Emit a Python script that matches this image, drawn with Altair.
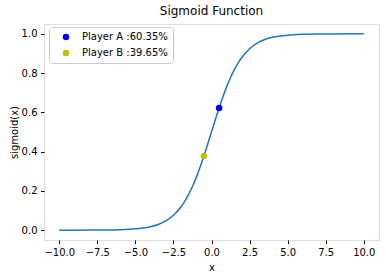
import altair as alt
import pandas as pd

# Sampled points of the logistic curve
curve_x = [-10, -9, -8, -7, -6, -5, -4.5, -4, -3.5, -3, -2.5, -2, -1.75, -1.5, -1.25, -1,
           -0.75, -0.5, -0.25, 0, 0.25, 0.5, 0.75, 1, 1.25, 1.5, 1.75, 2, 2.5, 3, 3.5,
           4, 4.5, 5, 6, 7, 8, 9, 10]
curve_y = [0.00005, 0.00012, 0.00034, 0.00091, 0.00247, 0.00669, 0.01099, 0.01799, 0.02931,
           0.04743, 0.07586, 0.11920, 0.14805, 0.18243, 0.22270, 0.26894, 0.32082, 0.37754,
           0.43782, 0.5, 0.56218, 0.62246, 0.67918, 0.73106, 0.77730, 0.81757, 0.85195,
           0.88080, 0.92414, 0.95257, 0.97069, 0.98201, 0.98901, 0.99331, 0.99753, 0.99909,
           0.99966, 0.99988, 0.99995]

# Player markers
players = ["Player A :60.35%", "Player B :39.65%"]
player_x = [0.5, -0.5]
player_y = [0.62246, 0.37754]
player_colors = ["#0000ff", "#bfbf00"]

curve = pd.DataFrame({"x": curve_x, "y": curve_y})
pts = pd.DataFrame({"player": players, "x": player_x, "y": player_y})

font = "DejaVu Sans"

x_scale = alt.Scale(domain=[-11, 11], nice=False, zero=False)
y_scale = alt.Scale(domain=[-0.05, 1.05], nice=False, zero=False)

x_axis = alt.Axis(values=[-10, -7.5, -5, -2.5, 0, 2.5, 5, 7.5, 10], format=".1f",
                  grid=False, domain=False, tickColor="black", tickSize=3.5,
                  labelPadding=3.5, labelFontSize=10, labelColor="black", labelFont=font,
                  titleFont=font, titleFontSize=10, titleFontWeight="normal",
                  titleColor="black", titlePadding=5)
y_axis = alt.Axis(values=[0, 0.2, 0.4, 0.6, 0.8, 1.0], format=".1f",
                  grid=False, domain=False, tickColor="black", tickSize=3.5,
                  labelPadding=3.5, labelFontSize=10, labelColor="black", labelFont=font,
                  titleFont=font, titleFontSize=10, titleFontWeight="normal",
                  titleColor="black", titlePadding=2)

line = alt.Chart(curve).mark_line(color="#1f77b4", strokeWidth=1.5, interpolate="monotone").encode(
    x=alt.X("x:Q", scale=x_scale, axis=x_axis, title="x"),
    y=alt.Y("y:Q", scale=y_scale, axis=y_axis, title="sigmoid(x)"),
)

dots = alt.Chart(pts).mark_circle(size=42, opacity=1).encode(
    x="x:Q",
    y="y:Q",
    color=alt.Color(
        "player:N",
        scale=alt.Scale(domain=players, range=player_colors),
        legend=alt.Legend(
            title=None, orient="none", legendX=5, legendY=3,
            symbolType="circle", symbolSize=42, labelFont=font, labelFontSize=10,
            labelColor="black", strokeColor="#cccccc", fillColor="white",
            cornerRadius=3, padding=5, rowPadding=6, symbolOffset=7, labelOffset=11,
        ),
    ),
)

chart = (
    alt.layer(line, dots)
    .properties(
        width=335, height=216,
        title=alt.TitleParams("Sigmoid Function", font=font, fontSize=12,
                              fontWeight="normal", color="black", offset=6),
        autosize=alt.AutoSizeParams(type="none"),
        padding={"left": 44, "top": 24, "right": 7, "bottom": 38},
    )
    .configure_view(stroke="black", strokeWidth=0.8)
    .configure(background="white")
)

chart.save("out.html", embed_options={"renderer": "svg", "actions": False})
